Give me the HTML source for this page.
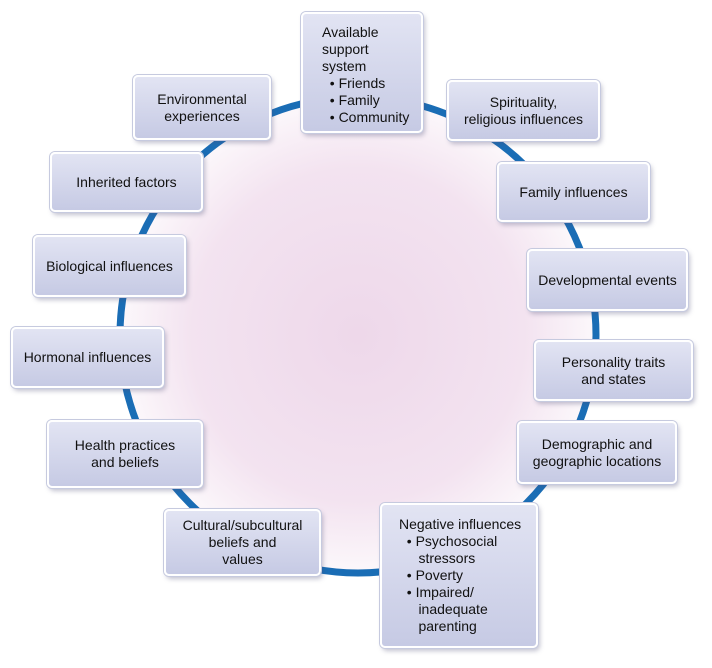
<!DOCTYPE html>
<html><head><style>
body{margin:0;width:712px;height:668px;background:#fff;position:relative;overflow:hidden;font-family:"Liberation Sans",sans-serif;}
.b{position:absolute;box-sizing:border-box;border:2px solid #fff;border-radius:5px;background:linear-gradient(#e2e4f3,#c6cae4);box-shadow:0 0 0 1px #c6cadf,2px 3px 5px rgba(80,80,120,.35);font-size:14px;color:#111;line-height:17px;display:flex;align-items:center;justify-content:center;text-align:center;}
.l{text-align:left;justify-content:flex-start;}
</style></head><body>
<svg width="712" height="668" style="position:absolute;left:0;top:0">
<defs><radialGradient id="g" cx="50%" cy="50%" r="50%"><stop offset="0" stop-color="#eed8ea"/><stop offset="0.7" stop-color="#f3e3f0"/><stop offset="1" stop-color="#fcf8fb"/></radialGradient></defs>
<circle cx="358" cy="335" r="238" fill="url(#g)" stroke="#1a6db5" stroke-width="7"/>
</svg>
<div class="b l" style="left:301px;top:12px;width:122px;height:121px;padding-left:19px;align-items:flex-start;padding-top:10px">Available<br>support<br>system<br>&nbsp;&nbsp;• Friends<br>&nbsp;&nbsp;• Family<br>&nbsp;&nbsp;• Community</div>
<div class="b" style="left:447px;top:80px;width:153px;height:61px">Spirituality,<br>religious influences</div>
<div class="b" style="left:133px;top:75px;width:138px;height:65px">Environmental<br>experiences</div>
<div class="b" style="left:50px;top:152px;width:153px;height:60px">Inherited factors</div>
<div class="b" style="left:497px;top:162px;width:153px;height:60px">Family influences</div>
<div class="b" style="left:33px;top:235px;width:153px;height:62px">Biological influences</div>
<div class="b" style="left:527px;top:249px;width:161px;height:62px">Developmental events</div>
<div class="b" style="left:11px;top:327px;width:153px;height:61px">Hormonal influences</div>
<div class="b" style="left:534px;top:340px;width:159px;height:61px">Personality traits<br>and states</div>
<div class="b" style="left:47px;top:420px;width:156px;height:68px">Health practices<br>and beliefs</div>
<div class="b" style="left:517px;top:421px;width:160px;height:63px">Demographic and<br>geographic locations</div>
<div class="b" style="left:164px;top:509px;width:157px;height:67px">Cultural/subcultural<br>beliefs and<br>values</div>
<div class="b l" style="left:380px;top:503px;width:158px;height:145px;padding-left:17px;align-items:flex-start;padding-top:11px"><div>Negative influences<br>&nbsp;&nbsp;• Psychosocial<br>&nbsp;&nbsp;&nbsp;&nbsp;&nbsp;stressors<br>&nbsp;&nbsp;• Poverty<br>&nbsp;&nbsp;• Impaired/<br>&nbsp;&nbsp;&nbsp;&nbsp;&nbsp;inadequate<br>&nbsp;&nbsp;&nbsp;&nbsp;&nbsp;parenting</div></div>
</body></html>
